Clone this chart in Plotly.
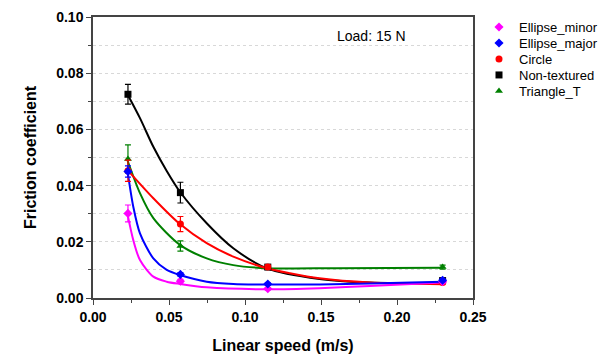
import plotly.graph_objects as go

# ---- data ----
speed = [0.023, 0.0575, 0.115, 0.23]

series_names = ["Ellipse_minor", "Ellipse_major", "Circle", "Non-textured", "Triangle_T"]

ellipse_minor = [0.0301, 0.0060, 0.0033, 0.0058]
ellipse_minor_err = [0.0030, 0.0006, 0.0004, 0.0005]
ellipse_major = [0.0450, 0.0084, 0.0050, 0.0063]
ellipse_major_err = [0.0020, 0.0006, 0.0004, 0.0005]
circle = [0.0453, 0.0263, 0.0110, 0.0055]
circle_err = [0.0038, 0.0027, 0.0007, 0.0006]
non_textured = [0.0725, 0.0375, 0.0110, 0.0062]
non_textured_err = [0.0035, 0.0037, 0.0008, 0.0006]
triangle_t = [0.0495, 0.0185, 0.0108, 0.0110]
triangle_t_err = [0.0050, 0.0018, 0.0006, 0.0007]

# fitted curves
fit_minor_x = [0.0226, 0.0265, 0.0309, 0.0397, 0.0485, 0.0572, 0.0748, 0.1143, 0.149, 0.182, 0.230]
fit_minor_y = [0.0301, 0.0206, 0.0135, 0.0076, 0.0058, 0.0050, 0.0038, 0.0031, 0.0035, 0.0043, 0.0055]
fit_major_x = [0.0226, 0.0265, 0.0309, 0.0397, 0.0485, 0.0572, 0.0748, 0.0923, 0.1143, 0.149, 0.182, 0.230]
fit_major_y = [0.0456, 0.0325, 0.0230, 0.0141, 0.0100, 0.0082, 0.0058, 0.0050, 0.0048, 0.0048, 0.0052, 0.0058]
fit_circle_x = [0.0226, 0.0397, 0.0572, 0.0748, 0.0923, 0.1143, 0.1296, 0.149, 0.182, 0.230]
fit_circle_y = [0.0456, 0.0355, 0.0263, 0.0195, 0.0147, 0.0106, 0.0088, 0.0070, 0.0055, 0.0049]
fit_nontex_x = [0.0226, 0.0309, 0.0397, 0.0485, 0.0572, 0.0748, 0.0923, 0.1143, 0.149, 0.182, 0.230]
fit_nontex_y = [0.0726, 0.0640, 0.0538, 0.0452, 0.0378, 0.0266, 0.0177, 0.0106, 0.0068, 0.0055, 0.0052]
fit_tri_x = [0.0226, 0.0309, 0.0397, 0.0572, 0.0748, 0.0923, 0.1143, 0.160, 0.230]
fit_tri_y = [0.0491, 0.0373, 0.0284, 0.0189, 0.0141, 0.0117, 0.0106, 0.0106, 0.0108]

x_ticks = [0.00, 0.05, 0.10, 0.15, 0.20, 0.25]
y_ticks = [0.00, 0.02, 0.04, 0.06, 0.08, 0.10]

colors = {"Ellipse_minor": "#FF00FF", "Ellipse_major": "#0000FF", "Circle": "#FF0000",
          "Non-textured": "#000000", "Triangle_T": "#008000"}
symbols = {"Ellipse_minor": "diamond", "Ellipse_major": "diamond", "Circle": "circle",
           "Non-textured": "square", "Triangle_T": "triangle-up"}
values = {"Ellipse_minor": (ellipse_minor, ellipse_minor_err),
          "Ellipse_major": (ellipse_major, ellipse_major_err),
          "Circle": (circle, circle_err),
          "Non-textured": (non_textured, non_textured_err),
          "Triangle_T": (triangle_t, triangle_t_err)}
fits = {"Ellipse_minor": (fit_minor_x, fit_minor_y),
        "Ellipse_major": (fit_major_x, fit_major_y),
        "Circle": (fit_circle_x, fit_circle_y),
        "Non-textured": (fit_nontex_x, fit_nontex_y),
        "Triangle_T": (fit_tri_x, fit_tri_y)}

FONT = "Arial, Liberation Sans, sans-serif"
AXC = "#444"

# the page body margin is removed (post_script), so the figure fills the window
W, H = 598, 358
L, R, T, B = 93, 125, 17, 60
plot_w = W - L - R
plot_h = H - T - B

fig = go.Figure()

draw_order = ["Triangle_T", "Non-textured", "Circle", "Ellipse_minor", "Ellipse_major"]
for name in draw_order:
    fx, fy = fits[name]
    fig.add_trace(go.Scatter(x=fx, y=fy, mode="lines",
                             line=dict(color=colors[name], width=2, shape="spline", smoothing=0.8),
                             showlegend=False, hoverinfo="skip"))

legend_ids = ["legend", "legend2", "legend3", "legend4", "legend5"]
for name in draw_order:
    y, e = values[name]
    idx = series_names.index(name)
    fig.add_trace(go.Scatter(
        x=speed, y=y, mode="markers", name=name, legend=legend_ids[idx],
        marker=dict(color=colors[name], symbol=symbols[name], size=7),
        error_y=dict(type="data", array=e, visible=True, color=colors[name], thickness=1.2, width=3),
    ))

# one legend box per entry so the rows sit 16 px apart as in the reference
legend_layout = {}
for i, lid in enumerate(legend_ids):
    py = 27 + 16 * i
    legend_layout[lid] = dict(x=(479 - L) / plot_w, y=(H - B - py) / plot_h, xanchor="left", yanchor="middle",
                              font=dict(size=13, family=FONT, color="#000"), itemwidth=30,
                              bgcolor="rgba(0,0,0,0)", borderwidth=0)

fig.add_annotation(x=0.734, y=0.932, xref="paper", yref="paper", text="Load: 15 N",
                   xanchor="center", yanchor="middle",
                   showarrow=False, font=dict(family=FONT, size=14, color="#000"))

fig.update_layout(
    width=W, height=H,
    margin=dict(l=L, r=R, t=T, b=B, autoexpand=False),
    plot_bgcolor="white", paper_bgcolor="white",
    font=dict(family=FONT, color="#000"),
    showlegend=True,
    **legend_layout,
)
fig.update_xaxes(
    range=[0, 0.25], tickvals=x_ticks, ticktext=[f"{v:.2f}" for v in x_ticks],
    showline=True, linecolor=AXC, linewidth=1.5, mirror=True, automargin=False,
    ticks="outside", ticklen=5, tickcolor=AXC, tickwidth=1.2,
    minor=dict(dtick=0.025, tick0=0, ticks="outside", ticklen=3, tickcolor=AXC, showgrid=False),
    showgrid=False, zeroline=False,
    tickfont=dict(family=FONT, size=14, weight="bold", color="#000"),
    title=dict(text="Linear speed (m/s)", font=dict(family=FONT, size=16, weight="bold", color="#000"), standoff=16),
)
fig.update_yaxes(
    range=[0, 0.10], tickvals=y_ticks, ticktext=[f"{v:.2f}" for v in y_ticks],
    showline=True, linecolor=AXC, linewidth=1.5, mirror=True, automargin=False,
    ticks="outside", ticklen=5, tickcolor=AXC, tickwidth=1.2,
    minor=dict(dtick=0.01, tick0=0, ticks="outside", ticklen=3, tickcolor=AXC,
               showgrid=True, gridcolor="#d8d8d8", griddash="dot", gridwidth=1),
    showgrid=True, gridcolor="#d8d8d8", griddash="dot", gridwidth=1, zeroline=False,
    tickfont=dict(family=FONT, size=14, weight="bold", color="#000"),
    title=dict(text="Friction coefficient", font=dict(family=FONT, size=16, weight="bold", color="#000"), standoff=16),
)

fig.write_html("out.html", config={"displayModeBar": False},
               post_script="document.body.style.margin='0';document.body.style.overflow='hidden';")
